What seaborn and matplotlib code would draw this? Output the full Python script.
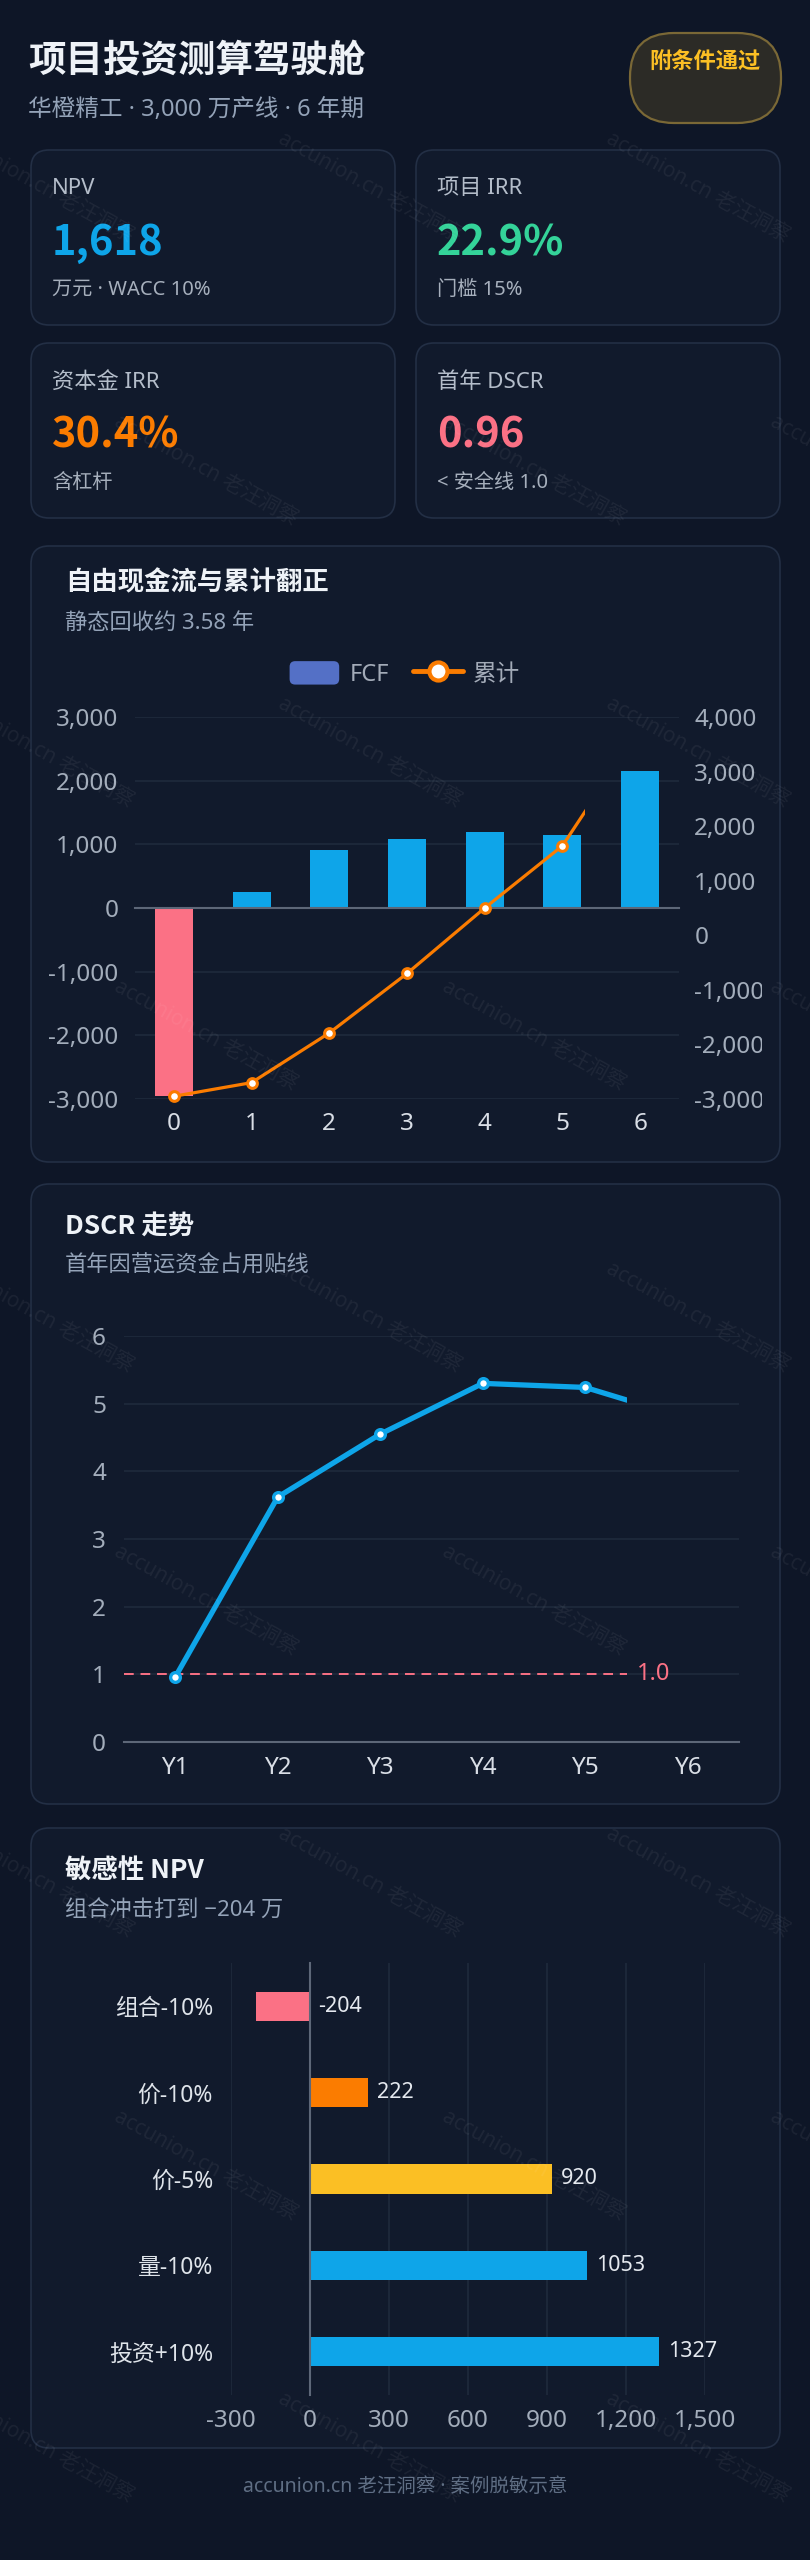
import numpy as np
import seaborn as sns
import matplotlib.pyplot as plt
from matplotlib.patches import FancyBboxPatch, Patch
from matplotlib.lines import Line2D
from matplotlib.legend_handler import HandlerPatch
from matplotlib.transforms import Bbox, TransformedBbox
from matplotlib.font_manager import FontProperties

# ---- data ----
kpi_labels = ["NPV", "项目 IRR", "资本金 IRR", "首年 DSCR"]
kpi_values = ["1,618", "22.9%", "30.4%", "0.96"]
kpi_notes = ["万元 · WACC 10%", "门槛 15%", "含杠杆", "< 安全线 1.0"]

fcf_periods = ["0", "1", "2", "3", "4", "5", "6"]
fcf = [-2950, 250, 910, 1090, 1200, 1140, 2150]
fcf_cum = np.cumsum(fcf)
fcf_left_ticks = [-3000, -2000, -1000, 0, 1000, 2000, 3000]
fcf_right_ticks = [-3000, -2000, -1000, 0, 1000, 2000, 3000, 4000]

dscr_years = ["Y1", "Y2", "Y3", "Y4", "Y5", "Y6"]
dscr = [0.96, 3.62, 4.55, 5.30, 5.24, 4.78]
dscr_ticks = [0, 1, 2, 3, 4, 5, 6]
dscr_floor = 1.0

sens_cases = ["组合-10%", "价-10%", "价-5%", "量-10%", "投资+10%"]
sens_npv = [-204, 222, 920, 1053, 1327]
sens_ticks = [-300, 0, 300, 600, 900, 1200, 1500]

# ---- look ----
BG = "#0e1627"
CARD = "#111a2c"
EDGE = "#232f45"
GRID = "#1e293b"
AXIS = "#5d6778"
TXT = "#eef2f7"
SUB = "#94a3b8"
TICK = "#a3adbb"
BLUE = "#0ea5e9"
PINK = "#fb7185"
ORANGE = "#fb7c00"
YELLOW = "#fbbf24"
GREEN = "#34d399"
FONT = ["Noto Sans", "Noto Sans CJK SC", "DejaVu Sans"]   # regular text
FONT_B = ["Noto Sans CJK SC", "DejaVu Sans"]              # bold text

sns.set_theme(style="dark")
plt.rcParams["font.family"] = FONT
plt.rcParams["axes.unicode_minus"] = False

W, H = 810, 2560
fig = plt.figure(figsize=(W / 100, H / 100), dpi=100)
fig.patch.set_facecolor(BG)

# full-size canvas in pixel units for cards and text
bg = fig.add_axes([0, 0, 1, 1])
bg.set_xlim(0, W)
bg.set_ylim(H, 0)
bg.axis("off")


def card(x0, y0, x1, y1, r=18, fc=CARD, ec=EDGE, lw=1.2):
    bg.add_patch(FancyBboxPatch((x0, y0), x1 - x0, y1 - y0,
                                boxstyle=f"round,pad=0,rounding_size={r}",
                                fc=fc, ec=ec, lw=lw))


def txt(x, y, s, size, color, weight="normal", ha="left"):
    fam = FONT_B if weight == "bold" else FONT
    bg.text(x, y, s, fontsize=size, color=color, fontweight=weight,
            ha=ha, va="center", family=fam)


def px_axes(x0, y0, x1, y1):
    a = fig.add_axes([x0 / W, 1 - y1 / H, (x1 - x0) / W, (y1 - y0) / H])
    a.set_facecolor("none")
    return a


def round_handle(legend, orig_handle, xdescent, ydescent, width, height, fontsize):
    return FancyBboxPatch((-xdescent, -ydescent), width, height,
                          boxstyle="round,pad=0,rounding_size=4")


# header
txt(28, 60, "项目投资测算驾驶舱", 27, TXT, "bold")
txt(28, 110, "华橙精工 · 3,000 万产线 · 6 年期", 17, SUB)
card(630, 33, 781, 123, r=44, fc="#2c2b26", ec="#7a6836", lw=1.6)
txt(705, 62, "附条件通过", 16, YELLOW, "bold", ha="center")

# KPI cards
kpi_colors = [BLUE, GREEN, ORANGE, PINK]
for i in range(4):
    cx = 31 if i % 2 == 0 else 416
    cy = 150 if i < 2 else 343
    card(cx, cy, cx + 364, cy + 175)
    txt(cx + 21, cy + 39, kpi_labels[i], 16, "#b4bdca")
    txt(cx + 21, cy + 93, kpi_values[i], 30, kpi_colors[i], "bold")
    txt(cx + 21, cy + 140, kpi_notes[i], 14.5, "#a6afbc")

# ---- chart 1: FCF bars + cumulative ----
card(31, 546, 780, 1162)
txt(65, 583, "自由现金流与累计翻正", 19, TXT, "bold")
txt(65, 623, "静态回收约 3.58 年", 16, SUB)

ax = px_axes(135, 717, 679, 1099)
bar_colors = [PINK if v < 0 else BLUE for v in fcf]
sns.barplot(x=fcf_periods, y=fcf, hue=fcf_periods,
            palette=dict(zip(fcf_periods, bar_colors)), width=0.49,
            saturation=1, legend=False, ax=ax, zorder=2,
            edgecolor="none", linewidth=0)
ax.set_xlim(-0.5, len(fcf) - 0.5)
ax.set_ylim(fcf_left_ticks[0], fcf_left_ticks[-1])
ax.set_yticks(fcf_left_ticks, labels=[f"{v:,}" for v in fcf_left_ticks])
ax.grid(axis="y", color=GRID, lw=1.3)
ax.grid(axis="x", visible=False)
ax.set_axisbelow(True)
for s in ("left", "right", "top"):
    ax.spines[s].set_visible(False)
ax.spines["bottom"].set_position(("data", 0))
ax.spines["bottom"].set_color(AXIS)
ax.spines["bottom"].set_linewidth(1.5)
ax.set_xticks(np.arange(-0.5, len(fcf), 1), minor=True)
ax.tick_params(axis="x", which="major", length=0, labelbottom=False)
ax.tick_params(axis="x", which="minor", length=5, width=1.5, color=AXIS,
               direction="out")
ax.tick_params(axis="y", length=0, pad=12, labelsize=17.5, labelcolor=TICK)
ax.set_xlabel("")
ax.set_ylabel("")
sec = ax.secondary_xaxis("bottom")
sec.set_xticks(range(len(fcf)), labels=fcf_periods)
sec.spines["bottom"].set_visible(False)
sec.tick_params(length=0, pad=9, labelsize=17.5, labelcolor="#d9dee6")

ax2 = ax.twinx()
sns.lineplot(x=np.arange(len(fcf)), y=fcf_cum, ax=ax2, color=ORANGE, lw=2.3,
             marker="o", ms=7, mfc="white", mec=ORANGE, mew=2.2, zorder=3)
ax2.set_ylim(fcf_right_ticks[0], fcf_right_ticks[-1])
ax2.set_yticks(fcf_right_ticks, labels=[f"{v:,}" for v in fcf_right_ticks])
ax2.tick_params(axis="y", length=0, pad=11, labelsize=17.5, labelcolor=TICK)
ax2.grid(False)
ax2.set_ylabel("")
for s in ax2.spines.values():
    s.set_visible(False)
cum_cut = 5.29  # line was still drawing in when captured
for ln in ax2.lines:
    ln.set_clip_box(TransformedBbox(Bbox([[-0.5, -5000], [cum_cut, 6000]]),
                                    ax2.transData))
for lab in ax2.get_yticklabels():
    lab.set_clip_box(Bbox([[0, 0], [762, H]]))
    lab.set_clip_on(True)

fcf_handle = Patch(facecolor="#5470c6", edgecolor="none", label="FCF")
handles = [fcf_handle,
           Line2D([], [], color=ORANGE, lw=3.5, marker="o", ms=13,
                  mfc="white", mec=ORANGE, mew=3, label="累计")]
fig.legend(handles=handles, loc="center", bbox_to_anchor=(405 / W, 1 - 674 / H),
           ncol=2, frameon=False, labelcolor="#a3abb8", handlelength=2.1,
           handleheight=1.15, columnspacing=1.0, handletextpad=0.45,
           prop=FontProperties(family=FONT, size=17),
           handler_map={fcf_handle: HandlerPatch(patch_func=round_handle)})

# ---- chart 2: DSCR ----
card(31, 1184, 780, 1804)
txt(65, 1226, "DSCR 走势", 19, TXT, "bold")
txt(65, 1266, "首年因营运资金占用贴线", 16, SUB)

ax3 = px_axes(124, 1336, 739, 1742)
sns.lineplot(x=np.arange(len(dscr)), y=dscr, ax=ax3, color=BLUE, lw=3.8,
             marker="o", ms=7, mfc="white", mec=BLUE, mew=2.4, zorder=3)
ax3.axhline(dscr_floor, color=PINK, lw=1.4, dashes=(5, 3.5), zorder=2)
ax3.set_xlim(-0.5, len(dscr_years) - 0.5)
ax3.set_ylim(dscr_ticks[0], dscr_ticks[-1])
dscr_cut = 4.41
for ln in ax3.lines:
    ln.set_clip_box(TransformedBbox(Bbox([[-0.5, -1], [dscr_cut, 10]]),
                                    ax3.transData))
ax3.annotate(f"{dscr_floor:.1f}", xy=(dscr_cut, dscr_floor), xytext=(7, 0),
             textcoords="offset points", va="center", ha="left",
             fontsize=17, color=PINK)
ax3.set_yticks(dscr_ticks)
ax3.set_xticks(range(len(dscr_years)), labels=dscr_years)
ax3.set_xticks(np.arange(-0.5, len(dscr_years), 1), minor=True)
ax3.grid(axis="y", color=GRID, lw=1.3)
ax3.grid(axis="x", visible=False)
ax3.set_axisbelow(True)
for s in ("left", "right", "top"):
    ax3.spines[s].set_visible(False)
ax3.spines["bottom"].set_color(AXIS)
ax3.spines["bottom"].set_linewidth(1.5)
ax3.tick_params(axis="x", which="major", length=0, pad=10, labelsize=17.5,
                labelcolor="#d9dee6")
ax3.tick_params(axis="x", which="minor", length=6, width=1.5, color=AXIS,
                direction="out")
ax3.tick_params(axis="y", length=0, pad=13, labelsize=17.5, labelcolor=TICK)
ax3.set_xlabel("")
ax3.set_ylabel("")

# ---- chart 3: sensitivity ----
card(31, 1828, 780, 2448)
txt(65, 1870, "敏感性 NPV", 19, TXT, "bold")
txt(65, 1911, "组合冲击打到 −204 万", 16, SUB)

ax4 = px_axes(231, 1963, 705, 2395)
sens_colors = [PINK, ORANGE, YELLOW, BLUE, BLUE]
sns.barplot(x=sens_npv, y=sens_cases, hue=sens_cases,
            palette=dict(zip(sens_cases, sens_colors)), orient="h",
            width=0.34, saturation=1, legend=False, ax=ax4, zorder=2,
            edgecolor="none", linewidth=0)
ax4.set_xlim(sens_ticks[0], sens_ticks[-1])
ax4.set_xticks(sens_ticks, labels=[f"{v:,}" for v in sens_ticks])
ax4.grid(axis="x", color=GRID, lw=1.3)
ax4.grid(axis="y", visible=False)
ax4.set_axisbelow(True)
for s in ("bottom", "right", "top"):
    ax4.spines[s].set_visible(False)
ax4.spines["left"].set_position(("data", 0))
ax4.spines["left"].set_color(AXIS)
ax4.spines["left"].set_linewidth(1.5)
ax4.set_yticks(np.arange(-0.5, len(sens_cases), 1), minor=True)
ax4.tick_params(axis="y", which="major", length=0, labelleft=False)
ax4.tick_params(axis="y", which="minor", length=6, width=1.5, color=AXIS,
                direction="out")
ax4.tick_params(axis="x", length=0, pad=10, labelsize=17.5, labelcolor=TICK)
ax4.set_xlabel("")
ax4.set_ylabel("")
for i, v in enumerate(sens_npv):
    ax4.annotate(str(v), xy=(max(v, 0), i), xytext=(6, 0),
                 textcoords="offset points", va="center", ha="left",
                 fontsize=15.5, color="#e5e9ef")
sec4 = ax4.secondary_yaxis("left")
sec4.set_yticks(range(len(sens_cases)), labels=sens_cases)
sec4.spines["left"].set_visible(False)
sec4.tick_params(length=0, pad=13, labelsize=16.5, labelcolor="#dfe4ea")

# footer
txt(405, 2487, "accunion.cn 老汪洞察 · 案例脱敏示意", 14, "#5f6e84", ha="center")

# watermark grid
wm_rows = [(187, [42, 370, 698]), (470, [206, 534, 862]), (752, [42, 370, 698]),
           (1035, [206, 534, 862]), (1317, [42, 370, 698]), (1600, [206, 534, 862]),
           (1882, [42, 370, 698]), (2165, [206, 534, 862]), (2447, [42, 370, 698])]
for wy, xs in wm_rows:
    for wx in xs:
        fig.text(wx / W, 1 - wy / H, "accunion.cn 老汪洞察", fontsize=15,
                 color="white", alpha=0.06, rotation=-29, ha="center",
                 va="center", rotation_mode="anchor", family=FONT, zorder=10)

fig.savefig("out.png", dpi=100, facecolor=BG)
